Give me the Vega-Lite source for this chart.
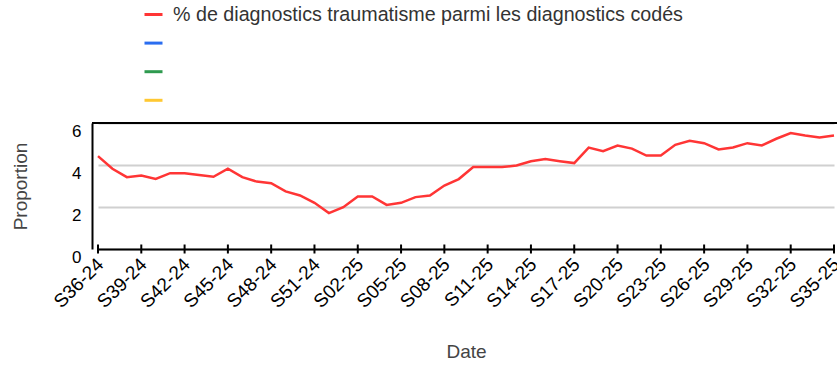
{
  "$schema": "https://vega.github.io/schema/vega-lite/v6.json",
  "width": 745,
  "height": 126,
  "autosize": {"type": "none"},
  "padding": {"left": 92, "top": 123, "right": 0, "bottom": 116},
  "config": {"view": {"stroke": null}, "font": "Liberation Sans"},
  "data": {
    "values": [
      {"semaine": "S36-24", "valeur": 4.42, "serie": "% de diagnostics traumatisme parmi les diagnostics codés"},
      {"semaine": "S37-24", "valeur": 3.82, "serie": "% de diagnostics traumatisme parmi les diagnostics codés"},
      {"semaine": "S38-24", "valeur": 3.42, "serie": "% de diagnostics traumatisme parmi les diagnostics codés"},
      {"semaine": "S39-24", "valeur": 3.50, "serie": "% de diagnostics traumatisme parmi les diagnostics codés"},
      {"semaine": "S40-24", "valeur": 3.34, "serie": "% de diagnostics traumatisme parmi les diagnostics codés"},
      {"semaine": "S41-24", "valeur": 3.61, "serie": "% de diagnostics traumatisme parmi les diagnostics codés"},
      {"semaine": "S42-24", "valeur": 3.61, "serie": "% de diagnostics traumatisme parmi les diagnostics codés"},
      {"semaine": "S43-24", "valeur": 3.52, "serie": "% de diagnostics traumatisme parmi les diagnostics codés"},
      {"semaine": "S44-24", "valeur": 3.44, "serie": "% de diagnostics traumatisme parmi les diagnostics codés"},
      {"semaine": "S45-24", "valeur": 3.82, "serie": "% de diagnostics traumatisme parmi les diagnostics codés"},
      {"semaine": "S46-24", "valeur": 3.42, "serie": "% de diagnostics traumatisme parmi les diagnostics codés"},
      {"semaine": "S47-24", "valeur": 3.21, "serie": "% de diagnostics traumatisme parmi les diagnostics codés"},
      {"semaine": "S48-24", "valeur": 3.13, "serie": "% de diagnostics traumatisme parmi les diagnostics codés"},
      {"semaine": "S49-24", "valeur": 2.74, "serie": "% de diagnostics traumatisme parmi les diagnostics codés"},
      {"semaine": "S50-24", "valeur": 2.55, "serie": "% de diagnostics traumatisme parmi les diagnostics codés"},
      {"semaine": "S51-24", "valeur": 2.20, "serie": "% de diagnostics traumatisme parmi les diagnostics codés"},
      {"semaine": "S52-24", "valeur": 1.71, "serie": "% de diagnostics traumatisme parmi les diagnostics codés"},
      {"semaine": "S01-25", "valeur": 1.99, "serie": "% de diagnostics traumatisme parmi les diagnostics codés"},
      {"semaine": "S02-25", "valeur": 2.50, "serie": "% de diagnostics traumatisme parmi les diagnostics codés"},
      {"semaine": "S03-25", "valeur": 2.50, "serie": "% de diagnostics traumatisme parmi les diagnostics codés"},
      {"semaine": "S04-25", "valeur": 2.10, "serie": "% de diagnostics traumatisme parmi les diagnostics codés"},
      {"semaine": "S05-25", "valeur": 2.20, "serie": "% de diagnostics traumatisme parmi les diagnostics codés"},
      {"semaine": "S06-25", "valeur": 2.47, "serie": "% de diagnostics traumatisme parmi les diagnostics codés"},
      {"semaine": "S07-25", "valeur": 2.55, "serie": "% de diagnostics traumatisme parmi les diagnostics codés"},
      {"semaine": "S08-25", "valeur": 3.02, "serie": "% de diagnostics traumatisme parmi les diagnostics codés"},
      {"semaine": "S09-25", "valeur": 3.33, "serie": "% de diagnostics traumatisme parmi les diagnostics codés"},
      {"semaine": "S10-25", "valeur": 3.90, "serie": "% de diagnostics traumatisme parmi les diagnostics codés"},
      {"semaine": "S11-25", "valeur": 3.90, "serie": "% de diagnostics traumatisme parmi les diagnostics codés"},
      {"semaine": "S12-25", "valeur": 3.90, "serie": "% de diagnostics traumatisme parmi les diagnostics codés"},
      {"semaine": "S13-25", "valeur": 3.98, "serie": "% de diagnostics traumatisme parmi les diagnostics codés"},
      {"semaine": "S14-25", "valeur": 4.18, "serie": "% de diagnostics traumatisme parmi les diagnostics codés"},
      {"semaine": "S15-25", "valeur": 4.28, "serie": "% de diagnostics traumatisme parmi les diagnostics codés"},
      {"semaine": "S16-25", "valeur": 4.18, "serie": "% de diagnostics traumatisme parmi les diagnostics codés"},
      {"semaine": "S17-25", "valeur": 4.09, "serie": "% de diagnostics traumatisme parmi les diagnostics codés"},
      {"semaine": "S18-25", "valeur": 4.83, "serie": "% de diagnostics traumatisme parmi les diagnostics codés"},
      {"semaine": "S19-25", "valeur": 4.66, "serie": "% de diagnostics traumatisme parmi les diagnostics codés"},
      {"semaine": "S20-25", "valeur": 4.93, "serie": "% de diagnostics traumatisme parmi les diagnostics codés"},
      {"semaine": "S21-25", "valeur": 4.78, "serie": "% de diagnostics traumatisme parmi les diagnostics codés"},
      {"semaine": "S22-25", "valeur": 4.45, "serie": "% de diagnostics traumatisme parmi les diagnostics codés"},
      {"semaine": "S23-25", "valeur": 4.45, "serie": "% de diagnostics traumatisme parmi les diagnostics codés"},
      {"semaine": "S24-25", "valeur": 4.96, "serie": "% de diagnostics traumatisme parmi les diagnostics codés"},
      {"semaine": "S25-25", "valeur": 5.15, "serie": "% de diagnostics traumatisme parmi les diagnostics codés"},
      {"semaine": "S26-25", "valeur": 5.04, "serie": "% de diagnostics traumatisme parmi les diagnostics codés"},
      {"semaine": "S27-25", "valeur": 4.74, "serie": "% de diagnostics traumatisme parmi les diagnostics codés"},
      {"semaine": "S28-25", "valeur": 4.83, "serie": "% de diagnostics traumatisme parmi les diagnostics codés"},
      {"semaine": "S29-25", "valeur": 5.04, "serie": "% de diagnostics traumatisme parmi les diagnostics codés"},
      {"semaine": "S30-25", "valeur": 4.93, "serie": "% de diagnostics traumatisme parmi les diagnostics codés"},
      {"semaine": "S31-25", "valeur": 5.25, "serie": "% de diagnostics traumatisme parmi les diagnostics codés"},
      {"semaine": "S32-25", "valeur": 5.52, "serie": "% de diagnostics traumatisme parmi les diagnostics codés"},
      {"semaine": "S33-25", "valeur": 5.40, "serie": "% de diagnostics traumatisme parmi les diagnostics codés"},
      {"semaine": "S34-25", "valeur": 5.31, "serie": "% de diagnostics traumatisme parmi les diagnostics codés"},
      {"semaine": "S35-25", "valeur": 5.40, "serie": "% de diagnostics traumatisme parmi les diagnostics codés"}
    ]
  },
  "layer": [
    {
      "mark": {"type": "line", "strokeWidth": 2.5},
      "encoding": {
        "x": {
          "field": "semaine",
          "type": "ordinal",
          "sort": null,
          "scale": {"type": "point", "range": [6, 742], "padding": 0},
          "axis": {
            "title": "Date",
            "values": ["S36-24", "S39-24", "S42-24", "S45-24", "S48-24", "S51-24", "S02-25", "S05-25", "S08-25", "S11-25", "S14-25", "S17-25", "S20-25", "S23-25", "S26-25", "S29-25", "S32-25", "S35-25"],
            "labelAngle": -45,
            "labelAlign": "right",
            "labelBaseline": "middle",
            "labelFontSize": 19,
            "labelColor": "#000000",
            "labelPadding": 12,
            "labelOffset": 2,
            "labelOverlap": false,
            "labelBound": false,
            "ticks": false,
            "domainColor": "#000000",
            "domainWidth": 2,
            "grid": false,
            "titleFontSize": 19,
            "titleFontWeight": "normal",
            "titleColor": "#444444",
            "titleBaseline": "top",
            "titleY": 93
          }
        },
        "y": {
          "field": "valeur",
          "type": "quantitative",
          "scale": {"domain": [0, 6], "nice": false},
          "axis": {
            "title": "Proportion",
            "values": [0, 2, 4, 6],
            "ticks": false,
            "labelFontSize": 17,
            "labelColor": "#000000",
            "labelPadding": 11,
            "labelBaseline": "top",
            "domainColor": "#000000",
            "domainWidth": 2,
            "grid": true,
            "gridColor": "#d0d0d0",
            "gridWidth": 2,
            "titleFontSize": 19,
            "titleFontWeight": "normal",
            "titleColor": "#444444",
            "titleBaseline": "bottom",
            "titleX": -62
          }
        },
        "color": {
          "field": "serie",
          "type": "nominal",
          "scale": {
            "domain": ["% de diagnostics traumatisme parmi les diagnostics codés", " ", "  ", "   "],
            "range": ["#ff3535", "#2a6df0", "#2f9a4f", "#ffc832"]
          },
          "legend": {
            "title": null,
            "orient": "none",
            "legendX": 51,
            "legendY": -119,
            "direction": "vertical",
            "symbolType": "stroke",
            "symbolStrokeWidth": 3,
            "symbolSize": 324,
            "labelFontSize": 19.7,
            "labelColor": "#333333",
            "labelLimit": 700,
            "labelOffset": 9,
            "rowPadding": 7.6,
            "padding": 0
          }
        }
      }
    },
    {
      "transform": [
        {"filter": {"field": "semaine", "oneOf": ["S36-24", "S39-24", "S42-24", "S45-24", "S48-24", "S51-24", "S02-25", "S05-25", "S08-25", "S11-25", "S14-25", "S17-25", "S20-25", "S23-25", "S26-25", "S29-25", "S32-25", "S35-25"]}}
      ],
      "mark": {"type": "tick", "orient": "vertical", "color": "#000000", "thickness": 2, "size": 9, "opacity": 1},
      "encoding": {
        "x": {"field": "semaine", "type": "ordinal", "sort": null},
        "y": {"datum": 0}
      }
    },
    {
      "mark": {"type": "rule", "color": "#000000", "strokeWidth": 2},
      "encoding": {"y": {"datum": 6}}
    }
  ]
}
